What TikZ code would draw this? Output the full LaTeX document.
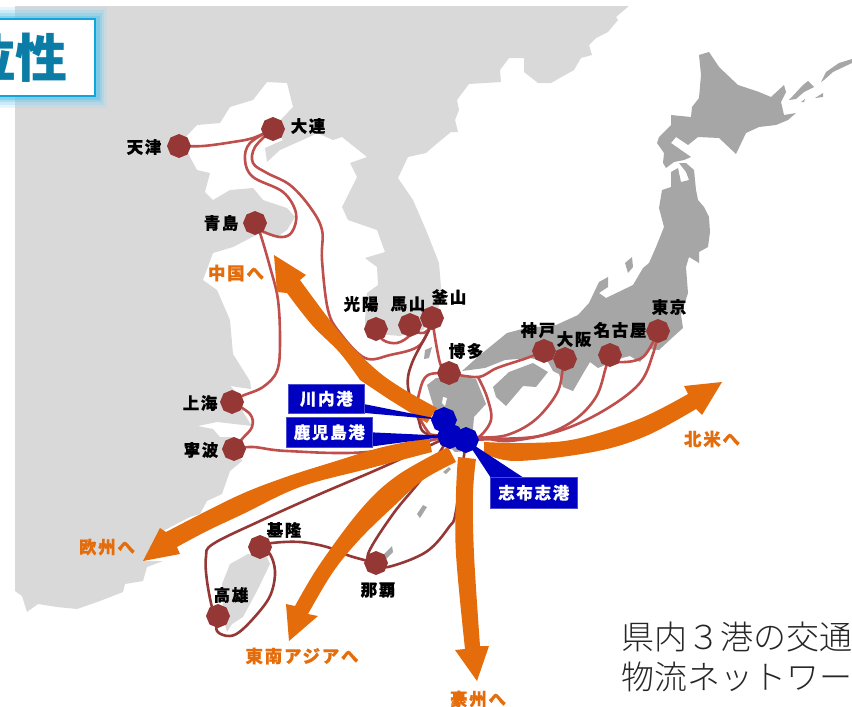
\documentclass[tikz,border=0pt]{standalone}
\usepackage{fontspec}
\usetikzlibrary{shapes.geometric}
\newfontfamily\jp{Noto Sans CJK JP}
\newfontfamily\jpl{Noto Sans CJK JP Light}
\newfontfamily\jpsp[LetterSpace=10,BoldFeatures={FakeBold=0.5}]{Noto Sans CJK JP}
\definecolor{landA}{HTML}{D9D9D9}
\definecolor{landJ}{HTML}{A6A6A6}
\definecolor{rtL}{HTML}{BE4F4C}
\definecolor{rtD}{HTML}{953735}
\definecolor{arrowO}{HTML}{E46C0A}
\definecolor{blueP}{HTML}{0000C0}
\definecolor{titleB}{HTML}{0A7CA6}
\definecolor{titleE}{HTML}{12A5DB}
\pgfdeclarelayer{land}\pgfdeclarelayer{routes}\pgfdeclarelayer{arrows}\pgfdeclarelayer{pointers}
\pgfsetlayers{land,routes,arrows,pointers,main}
\tikzset{
  route/.style={draw=rtL,line width=2.6pt,line join=round},
  routed/.style={draw=rtD,line width=2.6pt,line join=round},
  harbor/.style={regular polygon,regular polygon sides=8,shape border rotate=22.5,fill=rtD,draw=none,minimum size=24pt,inner sep=0pt},
  homeport/.style={regular polygon,regular polygon sides=8,shape border rotate=22.5,fill=blueP,draw=none,minimum size=26pt,inner sep=0pt},
  blk/.style={font=\jpsp\bfseries\fontsize{16.5}{17}\selectfont,text=black,inner sep=0pt},
  org/.style={font=\jpsp\bfseries\fontsize{17.5}{18}\selectfont,text=arrowO,inner sep=0pt},
  bluelbl/.style={font=\jpsp\bfseries\fontsize{16.5}{17}\selectfont,text=white,fill=blueP,draw=blueP!70!white,line width=.6pt,inner sep=0pt,anchor=north west},
  flow/.style={fill=arrowO,draw=none},
  smth/.style={smooth,tension=0.6}
}
\begin{document}
\begin{tikzpicture}[x=1pt,y=-1pt]
\useasboundingbox (0,0) rectangle (852,707);
% ---------- land
\begin{pgfonlayer}{land}
\fill[landA] (15,6) -- (629,6) -- (616,17) -- (618,20) -- (608,32) -- (596,38) -- (589,45) -- (592,55) -- (581,58) -- (574,70) -- (551,83) -- (538,83) -- (524,72) -- (524,58) -- (509,58) -- (500,70) -- (501,82) -- (469,84) -- (457,100) -- (459,110) -- (455,120) -- (458,132) -- (451,132) -- (434,146) -- (426,153) -- (408,157) -- (398,178) -- (413,200) -- (426,230) -- (439,263) -- (441,287) -- (438,312) -- (423,330) -- (400,336) -- (365,333) -- (365,320) -- (367,293) -- (378,285) -- (377,267) -- (365,258) -- (385,252) -- (377,230) -- (348,220) -- (342,207) -- (357,177) -- (350,163) -- (367,157) -- (342,137) -- (333,140) -- (317,133) -- (307,138) -- (280,150) -- (267,162) -- (265,148) -- (283,140) -- (273,128) -- (293,107) -- (287,83) -- (267,82) -- (253,100) -- (230,107) -- (220,123) -- (197,125) -- (183,140) -- (190,157) -- (197,170) -- (210,173) -- (205,192) -- (213,200) -- (230,190) -- (253,188) -- (263,200) -- (287,208) -- (295,217) -- (287,230) -- (277,237) -- (260,233) -- (233,247) -- (213,253) -- (203,280) -- (217,290) -- (230,320) -- (233,354) -- (250,381) -- (251,389) -- (230,386) -- (243,398) -- (243,412) -- (252,426) -- (217,422) -- (198,426) -- (213,429) -- (220,437) -- (233,437) -- (242,461) -- (230,471) -- (222,494) -- (207,501) -- (200,514) -- (190,517) -- (163,531) -- (145,561) -- (163,561) -- (147,567) -- (143,581) -- (125,584) -- (123,592) -- (100,601) -- (77,609) -- (57,607) -- (38,604) -- (27,612) -- (22,596) -- (15,591) -- cycle;
% Taiwan
\fill[landA] (248,554) -- (267,557) -- (270,564) -- (257,591) -- (243,617) -- (232,624) -- (227,632) -- (223,617) -- (222,584) -- (230,564) -- cycle;
% Hokkaido
\fill[landJ] (699,55) -- (709,52) -- (719,67) -- (738,85) -- (759,92) -- (771,97) -- (784,85) -- (786,92) -- (781,102) -- (784,115) -- (796,113) -- (788,120) -- (776,125) -- (759,127) -- (746,133) -- (736,154) -- (719,138) -- (698,137) -- (688,145) -- (676,137) -- (671,143) -- (691,157) -- (684,160) -- (674,162) -- (666,168) -- (663,163) -- (664,153) -- (657,143) -- (659,137) -- (671,125) -- (671,115) -- (691,117) -- (692,107) -- (699,98) -- (701,75) -- cycle;
% Kuril
\fill[landJ] (821,82) -- (826,72) -- (839,63) -- (852,59) -- (852,63) -- (833,72) -- (824,80) -- cycle;
\fill[landJ] (789,100) -- (803,85) -- (808,81) -- (814,87) -- (804,92) -- (796,99) -- cycle;
\fill[landJ] (815,98) -- (823,93) -- (823,97) -- cycle;
\fill[landJ] (801,102) -- (805,99) -- (804,102) -- cycle;
% Honshu
\fill[landJ] (671,172) -- (678,168) -- (679,173) -- (681,182) -- (689,180) -- (686,172) -- (679,163) -- (686,163) -- (694,170) -- (696,190) -- (698,200) -- (704,207) -- (709,217) -- (710,232) -- (708,247) -- (699,252) -- (699,263) -- (689,257) -- (686,267) -- (688,293) -- (681,315) -- (683,328) -- (673,337) -- (659,350) -- (650,349) -- (640,362) -- (630,356) -- (622,358) -- (598,368) -- (590,362) -- (584,372) -- (573,391) -- (563,387) -- (559,374) -- (553,371) -- (548,362) -- (530,358) -- (505,360) -- (485,368) -- (462,371) -- (480,355) -- (507,333) -- (526,328) -- (556,325) -- (578,315) -- (589,303) -- (599,282) -- (608,277) -- (608,287) -- (599,293) -- (606,298) -- (633,285) -- (643,268) -- (649,263) -- (656,247) -- (664,227) -- (659,208) -- (662,190) -- (671,187) -- cycle;
\fill[landJ] (625,263) -- (632,257) -- (633,267) -- (628,273) -- cycle;
% Shikoku
\fill[landJ] (493,387) -- (509,372) -- (533,363) -- (548,372) -- (536,387) -- (523,386) -- (506,406) -- (496,397) -- cycle;
% Kyushu
\fill[landJ] (427,385) -- (436,378) -- (459,376) -- (476,379) -- (486,404) -- (474,417) -- (473,429) -- (466,451) -- (455,452) -- (443,440) -- (440,425) -- (433,405) -- cycle;
\fill[white] (443,397) -- (447,398) -- (445,406) -- (442,403) -- cycle;
% small islands
\fill[landJ] (425,350) -- (432,347) -- (429,358) -- (424,359) -- cycle;
\fill[landJ] (443,472) -- (449,467) -- (451,469) -- (446,474) -- cycle;
\fill[landJ] (417,514) -- (423,505) -- (427,507) -- (420,518) -- cycle;
\fill[landJ] (382,556) -- (392,546) -- (393,552) -- (385,560) -- cycle;
\end{pgfonlayer}
% ---------- title
\fill[titleE!40!white,opacity=.25] (-20,7) rectangle (107,108);
\fill[titleE!50!white,opacity=.3] (-20,10) rectangle (104,105);
\fill[titleE!60!white,opacity=.35] (-20,13) rectangle (102,102);
\fill[titleE!70!white,opacity=.4] (-20,16) rectangle (100,100);
\node[draw=titleE,fill=white,line width=1.6pt,inner sep=0pt,minimum width=140pt,minimum height=77pt,anchor=south east] (titlebox) at (96,97) {};
\node[font=\jp\bfseries\fontsize{52}{52}\selectfont,text=titleB,inner sep=0pt,anchor=east] (titletext) at (68,58) {位性};
% ---------- harbour nodes
\node[harbor] (tj) at (179,146) {};
\node[harbor] (dl) at (273,129) {};
\node[harbor] (qd) at (255,223) {};
\node[harbor] (gy) at (376,329) {};
\node[harbor] (ms) at (410,325) {};
\node[harbor] (bs) at (432,318) {};
\node[harbor] (hk) at (449,373) {};
\node[harbor] (kb) at (544,351) {};
\node[harbor] (os) at (565,359) {};
\node[harbor] (ng) at (610,355) {};
\node[harbor] (tk) at (658,331) {};
\node[harbor] (sh) at (232,402) {};
\node[harbor] (nb) at (234,449) {};
\node[harbor] (kl) at (260,547) {};
\node[harbor] (kh) at (218,616) {};
\node[harbor] (nh) at (376,563) {};
\node[homeport] (ps) at (444,420) {};
\node[homeport] (pk) at (450,436) {};
\node[homeport] (pb) at (466,440) {};
\coordinate (jn) at (478,377);
\coordinate (jk) at (478,438);
% ---------- routes
\begin{pgfonlayer}{routes}
\draw[route] plot[smth] coordinates {(tj.center) (203,146) (233,142) (253,138) (dl.center)};
\draw[route] plot[smth] coordinates {(dl.center) (250,143) (245,160) (253,177) (283,192) (296,213) (292,232) (280,237) (260,230) (qd.center)};
\draw[route] plot[smth] coordinates {(dl.center) (255,147) (253,163) (267,173) (290,185) (310,207) (322,230) (322,260) (328,310) (340,333) (365,358) (390,355) (420,345) (bs.center)};
\draw[route] plot[smth] coordinates {(qd.center) (260,233) (270,267) (278,300) (280,343) (277,371) (263,387) (242,396) (sh.center)};
\draw[route] plot[smth] coordinates {(sh.center) (250,414) (252,427) (242,439) (nb.center)};
\draw[route] plot[smth] coordinates {(nb.center) (253,447) (287,451) (367,452) (pk.center)};
\draw[route] plot[smth] coordinates {(gy.center) (383,340) (397,343) (410,335) (ms.center)};
\draw[route] plot[smth] coordinates {(ms.center) (420,333) (428,330) (bs.center)};
\draw[route] plot[smth] coordinates {(bs.center) (440,363) (hk.center)};
\draw[routed] plot[smth] coordinates {(bs.center) (430,328) (412,363) (408,387) (418,418) (425,433) (pk.center)};
\draw[route] plot[smth] coordinates {(hk.center) (428,375) (420,390) (418,413) (433,437) (pk.center)};
\draw[route] plot[smth] coordinates {(hk.center) (jn) (497,368) (527,358) (kb.center)};
\draw[route] plot[smth] coordinates {(jn) (487,397) (491,420) (jk) (pb.center)};
\draw[route] plot[smth] coordinates {(os.center) (563,368) (557,393) (535,420) (507,435) (jk) (pb.center)};
\draw[route] plot[smth] coordinates {(ng.center) (606,367) (596,397) (573,421) (539,436) (493,439) (pb.center)};
\draw[route] plot[smth] coordinates {(tk.center) (653,354) (639,384) (603,411) (559,431) (509,441) (479,437) (pb.center)};
\draw[route] plot[smth] coordinates {(tk.center) (643,357) (618,362) (ng.center)};
\draw[routed] plot[smth] coordinates {(kh.center) (213,611) (207,581) (206,557) (213,544) (260,521) (320,494) (383,467) (pk.center)};
\draw[routed] plot[smth] coordinates {(kl.center) (270,554) (275,571) (272,591) (263,607) (243,629) (230,636) (217,631) (kh.center)};
\draw[routed] plot[smth] coordinates {(kl.center) (272,543) (300,542) (327,547) (350,556) (nh.center)};
\draw[routed] plot[smth] coordinates {(nh.center) (368,554) (393,514) (423,477) (pk.center)};
\draw[routed] plot[smth] coordinates {(nh.center) (388,567) (426,552) (449,527) (456,511) (pb.center)};
\end{pgfonlayer}
% ---------- big arrows
\begin{pgfonlayer}{arrows}
\fill[flow] plot[smth] coordinates {(437,408) (400,387) (373,367) (340,333) (300,280)} -- (306,275) -- (274,255) -- (277,292) -- plot[smth] coordinates {(287,293) (312,325) (340,353) (360,380)} -- (390,400) -- (427,423) -- cycle;
\fill[flow] plot[smth] coordinates {(429,438) (383,447) (333,462) (283,478) (235,497) (166,532)} -- (160,528) -- (143,561) -- (180,554) -- plot[smth] coordinates {(177,547) (207,531) (243,514) (300,487) (367,469) (432,452)} -- cycle;
\fill[flow] plot[smth] coordinates {(448,447) (398,475) (362,508) (320,564) (295,606)} -- (286,604) -- (289,641) -- (318,616) -- plot[smth] coordinates {(308,614) (333,572) (360,539) (395,505) (423,480) (456,462)} -- cycle;
\fill[flow] plot[smth] coordinates {(458,457) (456,494) (456,554) (465,649)} -- (455,650) -- (477,681) -- (489,646) -- plot[smth] coordinates {(480,646) (474,554) (473,494) (476,459)} -- cycle;
\fill[flow] plot[smth] coordinates {(484,442) (526,443) (576,439) (639,419) (688,394)} -- (684,386) -- (722,382) -- (702,415) -- plot[smth] coordinates {(696,409) (646,436) (593,452) (516,461) (484,453)} -- cycle;
\end{pgfonlayer}
% ---------- blue labels
\node[bluelbl,minimum width=76pt,minimum height=29pt] (ls) at (288,384) {川内港};
\node[bluelbl,minimum width=86pt,minimum height=30pt] (lk) at (286,417) {鹿児島港};
\node[bluelbl,minimum width=87pt,minimum height=31pt] (lb) at (490,477) {志布志港};
\begin{pgfonlayer}{pointers}
\fill[blueP] ([shift={(-2,5)}]ls.east) -- (ps.center) -- ([shift={(-2,14)}]ls.east) -- cycle;
\fill[blueP] ([shift={(-2,0)}]lk.east) -- (pk.center) -- ([shift={(-2,-1)}]lk.south east) -- cycle;
\fill[blueP] ([shift={(1,1)}]lb.north west) -- (pb.center) -- ([shift={(34,1)}]lb.north west) -- cycle;
\end{pgfonlayer}
% ---------- text
\node[blk] (t1) at (144,147) {天津};
\node[blk] (t2) at (308,126) {大連};
\node[blk] (t3) at (221,223) {青島};
\node[blk] (t4) at (361,304) {光陽};
\node[blk] (t5) at (408,304) {馬山};
\node[blk] (t6) at (449,297) {釜山};
\node[blk] (t7) at (466,351) {博多};
\node[blk] (t8) at (538,330) {神戸};
\node[blk] (t9) at (574,339) {大阪};
\node[blk] (t10) at (620,330) {名古屋};
\node[blk] (t11) at (669,307) {東京};
\node[blk] (t12) at (200,403) {上海};
\node[blk] (t13) at (201,450) {寧波};
\node[blk] (t14) at (284,530) {基隆};
\node[blk] (t15) at (231,595) {高雄};
\node[blk] (t16) at (378,590) {那覇};
\node[org] (o1) at (236,273) {中国へ};
\node[org] (o2) at (107,547) {欧州へ};
\node[org] (o3) at (302,656) {東南アジアへ};
\node[org] (o4) at (478,699) {豪州へ};
\node[org] (o5) at (712,439) {北米へ};
\node[font=\jpl\fontsize{33}{33}\selectfont,inner sep=0pt,anchor=west,text=black!85] (b1) at (621,637) {県内３港の交通};
\node[font=\jpl\fontsize{33}{33}\selectfont,inner sep=0pt,anchor=west,text=black!85] (b2) at (621,677) {物流ネットワー};
\end{tikzpicture}
\end{document}
